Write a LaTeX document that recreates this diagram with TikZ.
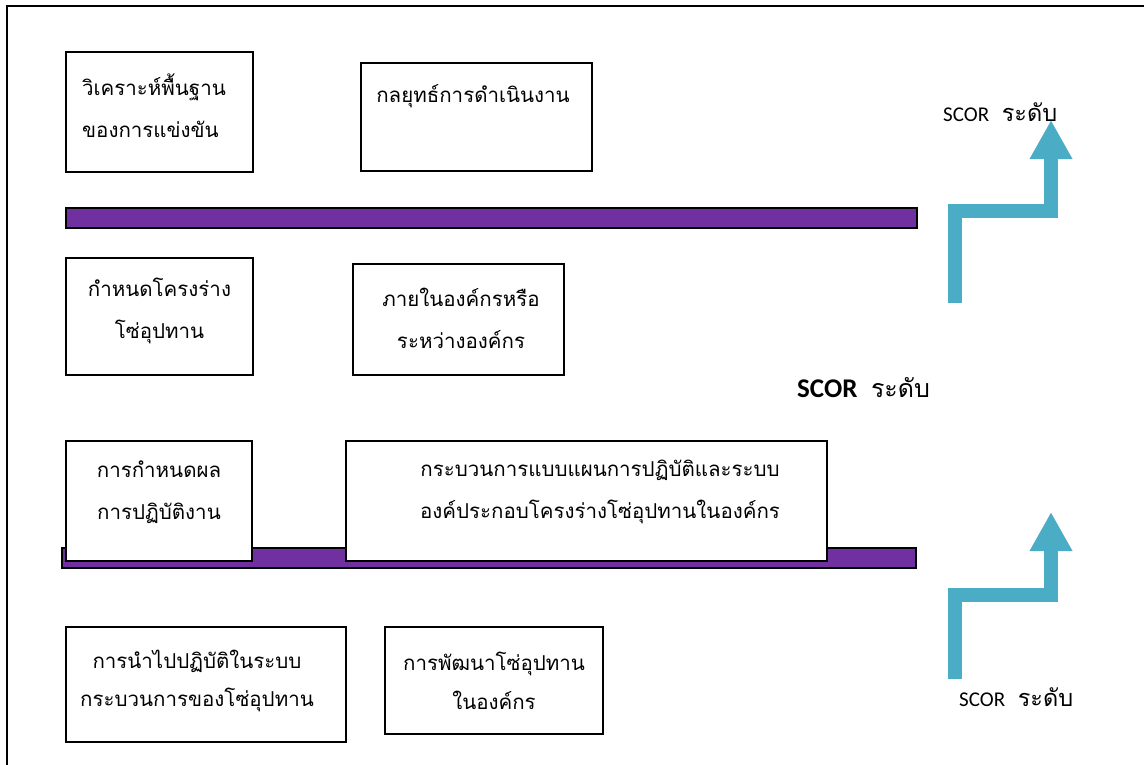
\documentclass[tikz,border=0pt]{standalone}
\usepackage{fontspec}
\setmainfont{Carlito}
\newfontfamily\thai[Script=Thai]{Loma}
\usetikzlibrary{arrows.meta}
\definecolor{barpurple}{HTML}{7030A0}
\definecolor{arrowblue}{HTML}{4BACC6}
\begin{document}
\begin{tikzpicture}[x=1pt,y=-1pt,
  box/.style={draw=black,line width=1.6pt,fill=white,rectangle,inner sep=0pt},
  bar/.style={draw=black,line width=1.6pt,fill=barpurple,rectangle,inner sep=0pt},
  boxtext/.style={font=\thai\fontsize{20.5}{42}\selectfont,align=center,inner sep=0pt},
  arrowline/.style={draw=arrowblue,line width=14pt,line cap=butt,line join=miter,
    -{Triangle[width=40pt,length=39pt]}},
  scor/.style={font=\fontsize{21}{24}\selectfont,inner sep=0pt}
]
\useasboundingbox (0,0) rectangle (1144,764);
% outer frame
\draw[line width=1.6pt] (7,780) -- (7,6) -- (1160,6);

% row 1
\node[box,minimum width=187pt,minimum height=120pt] (b1) at (159.5,112) {};
\node[boxtext,align=left] (t1) at (154,105.5) {วิเคราะห์พื้นฐาน\\ของการแข่งขัน};
\node[box,minimum width=231pt,minimum height=108pt] (b2) at (476.5,117) {};
\node[boxtext] (t2) at (473,96) {กลยุทธ์การดำเนินงาน};

% bar 1
\node[bar,minimum width=851pt,minimum height=20pt] (bar1) at (491.5,218) {};

% row 2
\node[box,minimum width=187pt,minimum height=117pt] (b3) at (159.5,316.5) {};
\node[boxtext] (t3) at (159.5,311) {กำหนดโครงร่าง\\โซ่อุปทาน};
\node[box,minimum width=211pt,minimum height=111pt] (b4) at (458.5,319.5) {};
\node[boxtext] (t4) at (461,318) {ภายในองค์กรหรือ\\ระหว่างองค์กร};

% middle label
\node[inner sep=0pt,anchor=west] (scormid) at (797,388) {\fontsize{27}{30}\selectfont\textbf{SCOR}\hspace{0.5em}{\thai\fontsize{25}{28}\selectfont ระดับ}};

% bar 2 (behind row 3)
\node[bar,minimum width=854pt,minimum height=20pt] (bar2) at (489,558) {};

% row 3
\node[box,minimum width=186pt,minimum height=120pt] (b5) at (159,501) {};
\node[boxtext] (t5) at (159,492.5) {การกำหนดผล\\การปฏิบัติงาน};
\node[box,minimum width=481pt,minimum height=120pt] (b6) at (586.5,501) {};
\node[boxtext] (t6) at (600,491.5) {กระบวนการแบบแผนการปฏิบัติและระบบ\\องค์ประกอบโครงร่างโซ่อุปทานในองค์กร};

% row 4
\node[box,minimum width=280pt,minimum height=115pt] (b7) at (206,684.5) {};
\node[boxtext,font=\thai\fontsize{20.5}{38}\selectfont] (t7) at (197,681) {การนำไปปฏิบัติในระบบ\\กระบวนการของโซ่อุปทาน};
\node[box,minimum width=218pt,minimum height=107pt] (b8) at (494,680.5) {};
\node[boxtext,font=\thai\fontsize{20.5}{39}\selectfont] (t8) at (494,680.5) {การพัฒนาโซ่อุปทาน\\ในองค์กร};

% arrows
\coordinate (a1s) at (955,303);
\coordinate (a1m) at (955,211);
\coordinate (a1n) at (1051,211);
\coordinate (a1t) at (1051,120);
\draw[arrowline] (a1s) -- (a1m) -- (a1n) -- (a1t);
\coordinate (a2s) at (955,679);
\coordinate (a2m) at (955,595);
\coordinate (a2n) at (1051,595);
\coordinate (a2t) at (1051,512);
\draw[arrowline] (a2s) -- (a2m) -- (a2n) -- (a2t);

% arrow labels
\node[scor,anchor=west] (scortop) at (943,112) {SCOR\hspace{0.6em}{\thai\fontsize{23.5}{26}\selectfont ระดับ}};
\node[scor,anchor=west] (scorbot) at (959,697) {SCOR\hspace{0.6em}{\thai\fontsize{23.5}{26}\selectfont ระดับ}};
\end{tikzpicture}
\end{document}
